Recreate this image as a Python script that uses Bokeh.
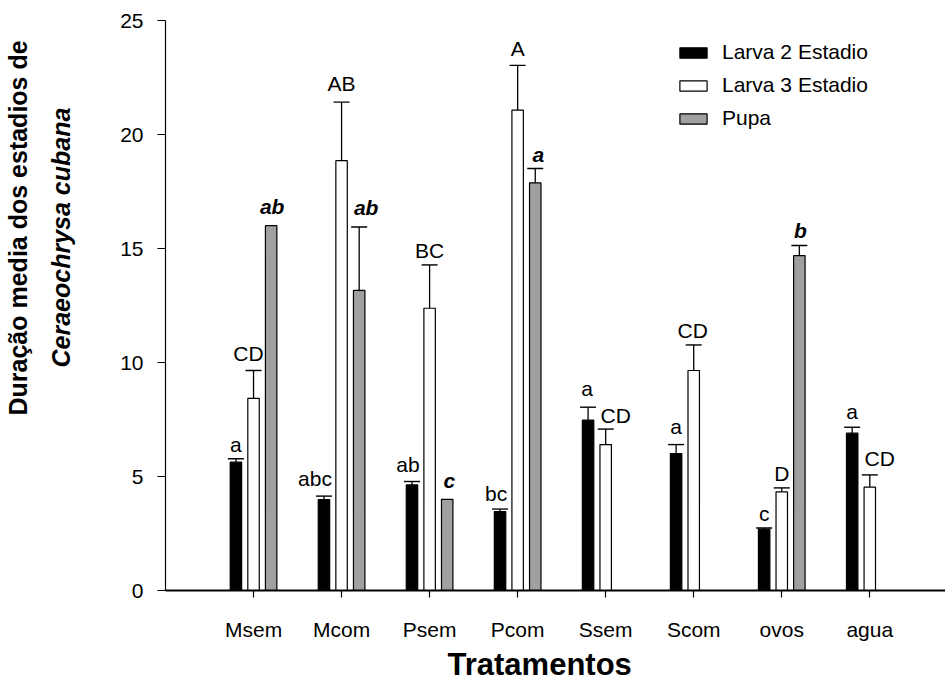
import math
from bokeh.plotting import figure
from bokeh.models import (ColumnDataSource, Range1d, FixedTicker, Whisker, TeeHead,
                          Legend, LegendItem, Title)
from bokeh.core.properties import value
from bokeh.embed import file_html
from bokeh.resources import INLINE

# ---------------- data ----------------
categories = ["Msem", "Mcom", "Psem", "Pcom", "Ssem", "Scom", "ovos", "agua"]
series_names = ["Larva 2 Estadio", "Larva 3 Estadio", "Pupa"]

larva2_mean = [5.63, 3.99, 4.63, 3.46, 7.47, 6.00, 2.69, 6.90]
larva2_err = [0.15, 0.15, 0.15, 0.11, 0.57, 0.40, 0.05, 0.26]
larva2_letters = ["a", "abc", "ab", "bc", "a", "a", "c", "a"]

larva3_mean = [8.43, 18.85, 12.38, 21.07, 6.40, 9.65, 4.33, 4.53]
larva3_err = [1.22, 2.57, 1.90, 1.96, 0.68, 1.12, 0.17, 0.54]
larva3_letters = ["CD", "AB", "BC", "A", "CD", "CD", "D", "CD"]

pupa_mean = [16.0, 13.16, 4.0, 17.88, None, None, 14.69, None]
pupa_err = [0.0, 2.78, 0.0, 0.63, None, None, 0.44, None]
pupa_letters = ["ab", "ab", "c", "a", "", "", "b", ""]

y_ticks = [0, 5, 10, 15, 20, 25]
x_title = "Tratamentos"
y_title_line1 = "Duração media dos estadios de"
y_title_line2 = "Ceraeochrysa cubana"

# ---------------- styles / layout ----------------
FONT = "Liberation Sans"
fills = ["black", "white", "#a0a0a0"]
group_offsets = [-0.2, 0.0, 0.2]
bar_width = 0.13
PX_PER_UNIT = 570 / 25.0
BASE_GAP = 7
# fine nudges of the significance letters (pixels)
label_dx = [[0, -9, -4, -4, -1, 0, 0, 0],
            [-5, 0, 0, 0, 10, -1, 0, 10],
            [1, 7, 2, 3, 0, 0, 1, 0]]
label_gap = [[7, 11, 10, 9, 12, 11, 8, 9],
             [10, 12, 7, 10, 7, 7, 7, 9],
             [12, 13, 12, 7, 0, 0, 8, 0]]
label_styles = ["normal", "normal", "bold italic"]

means = [larva2_mean, larva3_mean, pupa_mean]
errs = [larva2_err, larva3_err, pupa_err]
letters = [larva2_letters, larva3_letters, pupa_letters]

p = figure(width=945, height=690, output_backend="svg", toolbar_location=None,
           x_range=Range1d(0, 8.86), y_range=Range1d(0, 25),
           min_border_left=165, min_border_right=0, min_border_top=20,
           min_border_bottom=100)
p.outline_line_color = None
p.xgrid.visible = False
p.ygrid.visible = False
p.background_fill_color = "white"
p.border_fill_color = "white"

legend_items = []
for s in range(3):
    xs, tops, ebx, elo, ehi = [], [], [], [], []
    tx, ty, tt, tdx = [], [], [], []
    for i, c in enumerate(categories):
        m = means[s][i]
        if m is None:
            continue
        x = i + 1 + group_offsets[s]
        xs.append(x)
        tops.append(m)
        e = errs[s][i] or 0.0
        if e > 0:
            ebx.append(x)
            elo.append(m)
            ehi.append(m + e)
        if letters[s][i]:
            tx.append(x)
            ty.append(m + e + (label_gap[s][i] + BASE_GAP) / PX_PER_UNIT)
            tt.append(letters[s][i])
            tdx.append(label_dx[s][i])
    src = ColumnDataSource(dict(x=xs, top=tops))
    r = p.vbar(x="x", top="top", bottom=0, width=bar_width, source=src,
               fill_color=fills[s], line_color="black", line_width=1.2)
    legend_items.append(LegendItem(label=series_names[s], renderers=[r]))
    esrc = ColumnDataSource(dict(base=ebx, lower=elo, upper=ehi))
    w = Whisker(base="base", lower="lower", upper="upper", source=esrc,
                dimension="height", line_color="black", line_width=1.3,
                lower_head=None,
                upper_head=TeeHead(size=16, line_color="black", line_width=1.4))
    p.add_layout(w)
    tsrc = ColumnDataSource(dict(x=tx, y=ty, t=tt, dx=tdx))
    p.text(x="x", y="y", text="t", source=tsrc, x_offset="dx",
           text_align="center", text_baseline="alphabetic",
           text_font=value(FONT), text_font_size="21px",
           text_font_style=label_styles[s], text_color="black")

# axes
for ax in (p.xaxis[0], p.yaxis[0]):
    ax.axis_line_color = "black"
    ax.major_tick_line_color = "black"
    ax.minor_tick_line_color = None
    ax.major_tick_in = 0
    ax.major_label_text_font = FONT
    ax.major_label_text_font_size = "21px"
    ax.major_label_text_color = "black"

p.yaxis.ticker = FixedTicker(ticks=y_ticks)
p.yaxis.major_tick_out = 8
p.yaxis.axis_line_width = 1.2
p.yaxis.major_tick_line_width = 1.2
p.yaxis.major_label_standoff = 14

p.xaxis.ticker = FixedTicker(ticks=list(range(1, len(categories) + 1)))
p.xaxis.major_label_overrides = {i + 1: c for i, c in enumerate(categories)}
p.xaxis.major_tick_out = 7
p.xaxis.axis_line_width = 2
p.xaxis.major_tick_line_width = 1.2
p.xaxis.major_label_standoff = 20

# axis titles (stacked panels on the left: spacer, line 2, line 1)
spacer = Title(text=" ", text_font_size="1px", standoff=27)
t2 = Title(text=y_title_line2, align="left", offset=223, vertical_align="top",
           standoff=21, text_font=FONT, text_font_size="25px",
           text_font_style="bold italic", text_color="black")
t1 = Title(text=y_title_line1, align="left", offset=175, vertical_align="top",
           standoff=6, text_font=FONT, text_font_size="25px",
           text_font_style="bold", text_color="black")
p.add_layout(spacer, "left")
p.add_layout(t2, "left")
p.add_layout(t1, "left")
tx_title = Title(text=x_title, align="left", offset=282, standoff=2,
                 text_font=FONT, text_font_size="31px", text_font_style="bold",
                 text_color="black")
p.add_layout(tx_title, "below")

legend = Legend(items=legend_items, location=(511, 460),
                glyph_width=34, glyph_height=13, label_height=24,
                label_standoff=12, spacing=9, padding=0, margin=0,
                label_text_font=FONT, label_text_font_size="21px",
                label_text_color="black",
                border_line_color=None, background_fill_alpha=0)
p.add_layout(legend)

open("out.html", "w").write(file_html(p, INLINE))
